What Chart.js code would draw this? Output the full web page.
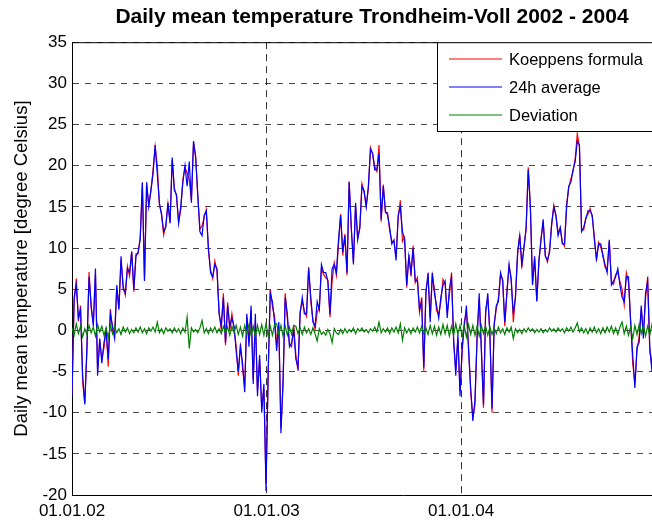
<!DOCTYPE html>
<html>
<head>
<meta charset="utf-8">
<script src="https://cdn.jsdelivr.net/npm/chart.js@4.4.1/dist/chart.umd.min.js"></script>
<style>
  html, body { margin: 0; padding: 0; background: #fff; overflow: hidden; }
  #wrap { position: relative; width: 744px; height: 524px; }
</style>
</head>
<body>
<div id="wrap"><canvas id="tempChart"></canvas></div>
<script>
// One reading every 4 days, starting 01.01.2002
const STEP_DAYS = 4;

// x axis ticks (days since 01.01.02)
const tickDays = [0, 365, 730];
const tickLabels = ['01.01.02', '01.01.03', '01.01.04'];

const seriesNames = ['Koeppens formula', '24h average', 'Deviation'];

// Koeppens formula (degC)
const koeppens = [
  -7.7, 3.4, 6.3, 1.1, 3.0, -6.3, -8.8, -2.5, 7.1, 2.7,
  0.9, 6.8, -4.8, -1.2, -3.5, -2.1, 0.3, -4.4, 2.6, 0.1,
  -0.5, 5.2, 2.7, 8.5, 5.4, 4.3, 7.8, 6.6, 9.6, 4.7,
  9.3, 9.3, 11.4, 17.7, 6.2, 17.6, 15.3, 16.9, 19.4, 22.3,
  20.0, 15.2, 14.2, 11.6, 12.8, 15.4, 13.2, 20.7, 17.3, 16.3,
  13.2, 14.6, 18.3, 19.8, 19.1, 18.3, 15.8, 22.8, 21.1, 16.2,
  12.3, 12.7, 13.7, 14.7, 9.6, 7.3, 6.3, 8.4, 7.2, 2.2,
  0.1, 4.5, -1.8, 3.4, -0.1, 2.0, 0.2, -1.9, -5.5, -1.6,
  -4.7, -6.9, 1.6, -1.3, 2.4, -6.0, 1.2, -7.4, -3.5, -9.3,
  -7.1, -18.7, -5.7, 5.0, 2.9, 1.7, -1.7, 0.5, -11.9, -6.7,
  4.5, 1.4, -1.6, -2.0, 0.6, -3.0, -4.9, 2.3, 3.5, 2.4,
  1.7, 7.7, 3.5, 1.3, 0.1, 2.2, 2.7, 7.5, 6.8, 6.4,
  6.1, 1.6, 6.0, 8.2, 6.7, 10.5, 14.1, 9.1, 11.7, 6.7,
  18.1, 12.3, 8.3, 15.1, 11.2, 12.4, 17.8, 16.8, 15.1, 17.2,
  22.2, 21.4, 19.9, 19.3, 22.5, 13.2, 17.7, 14.3, 14.3, 12.1,
  10.8, 10.8, 8.9, 13.7, 15.8, 10.8, 11.3, 5.2, 9.2, 6.6,
  10.3, 5.8, 6.4, 2.2, 4.0, -4.9, 4.8, 6.5, 1.6, 6.6,
  5.0, 2.4, 1.9, 3.5, 6.2, 5.6, 2.1, 4.3, 7.0, -1.6,
  -4.7, -1.0, -7.4, -2.7, 1.0, 2.2, -1.8, -7.5, -10.4, -9.1,
  -0.5, 3.8, -1.9, -9.4, 2.5, 3.9, -0.1, -10.0, 0.8, 2.6,
  3.9, 6.7, 6.2, 0.5, 4.8, 7.8, 6.4, 1.0, 4.2, 9.2,
  11.6, 7.6, 10.2, 12.3, 19.8, 14.9, 5.7, 8.7, 3.6, 8.3,
  11.2, 13.2, 9.1, 8.3, 9.8, 12.9, 15.2, 13.8, 11.8, 12.4,
  10.7, 10.2, 15.3, 17.4, 18.4, 19.3, 20.8, 23.9, 22.3, 12.3,
  12.2, 13.7, 14.1, 14.8, 13.8, 11.4, 8.4, 10.7, 10.1, 9.3,
  7.7, 7.4, 10.8, 6.0, 5.6, 6.8, 7.0, 5.9, 5.0, 3.1,
  7.0, 5.9, 1.4, -4.0, -6.4, -2.5, -0.8, 2.6, -0.4, 3.8,
  6.5, -2.6, -4.3, 1.6
];

// 24h average (degC)
const avg24h = [
  -8, 4, 5.5, 1.5, 2.5, -5.5, -9, -2, 6.5, 3,
  0.5, 7.5, -5.5, -1, -4, -1.5, 0, -3.5, 2, 0.5,
  -1, 5.5, 2.5, 9, 5, 4.5, 7.5, 7, 9.5, 5,
  9, 9.5, 11, 18, 6, 18, 15, 17, 19, 22.5,
  19, 15.5, 14, 12, 12.5, 15.5, 13, 21, 17, 16.5,
  13, 15, 18, 20, 17.5, 20.5, 15.5, 23, 21, 16.5,
  12, 11.5, 14, 14.5, 10, 7, 6.5, 8, 7.5, 2,
  0.5, 4, -1.5, 3, 0.5, 1.5, 0.5, -2.5, -5, -2,
  -4, -7.5, 2, -2, 3, -6.5, 2, -8, -3, -10,
  -6.5, -19.5, -5, 4.5, 3.5, 1, -2.5, 1, -12.5, -6,
  4, 2, -2, -1.5, 0, -3.5, -4.5, 2, 4, 2,
  2, 7.5, 4, 1, 0.5, 3.5, 2.5, 8, 7, 7,
  6, 2, 7.5, 8, 7, 11, 14, 9.5, 11.5, 7,
  18, 12.5, 8, 15.5, 11, 12.5, 17.5, 17, 15, 17.5,
  22, 21.5, 19.5, 19.5, 21.5, 13.5, 17.5, 14.5, 14, 12.5,
  10.5, 11, 8.5, 14, 15, 12, 11, 5.5, 9, 7,
  10, 6, 6, 2.5, 3.5, -4.5, 4.5, 7, 1, 7,
  4.5, 3, 1.5, 4, 5.5, 6, 1.5, 5, 6.5, -1,
  -5.5, -0.5, -8, -2, 0.5, 3, -2.5, -7, -11, -8.5,
  -1, 4.5, -2.5, -9, 2, 4.5, -0.5, -9.5, 0.5, 3,
  3.5, 7, 6, 1, 4.5, 8, 6, 2, 4, 9.5,
  11.5, 8, 10, 12.5, 19.5, 15, 5.5, 9, 3.5, 8.5,
  11, 13.5, 9, 8.5, 9.5, 13, 15, 14, 11.5, 12.5,
  10.5, 10.5, 15, 17.5, 18, 19.5, 20.5, 23, 22.5, 12,
  12.5, 13.5, 14.5, 14.5, 14, 11, 8.7, 10.5, 10.5, 9,
  8, 7, 11, 5.5, 6, 6.5, 7.5, 5.5, 4, 3.5,
  6.5, 6.5, 1, -3, -7, -2, -1.5, 3, -1, 4.5,
  6, -2, -5, 2
];

// Deviation Koeppens - 24h average (degC)
const deviation = [
  0.3, -0.6, 0.8, -0.4, 0.5, -0.8, 0.2, -0.5, 0.6, -0.3,
  0.4, -0.7, 0.7, -0.2, 0.5, -0.6, 0.3, -0.9, 0.6, -0.4,
  0.5, -0.3, 0.2, -0.5, 0.4, -0.2, 0.3, -0.4, 0.1, -0.3,
  0.3, -0.2, 0.4, -0.3, 0.2, -0.4, 0.3, -0.1, 0.4, -0.2,
  1.0, -0.3, 0.2, -0.4, 0.3, -0.1, 0.2, -0.3, 0.3, -0.2,
  0.2, -0.4, 0.3, -0.2, 1.6, -2.2, 0.3, -0.2, 0.1, -0.3,
  0.3, 1.2, -0.3, 0.2, -0.4, 0.3, -0.2, 0.4, -0.3, 0.2,
  -0.4, 0.5, -0.3, 0.4, -0.6, 0.5, -0.3, 0.6, -0.5, 0.4,
  -0.7, 0.6, -0.4, 0.7, -0.6, 0.5, -0.8, 0.6, -0.5, 0.7,
  -0.6, 0.8, -0.7, 0.5, -0.6, 0.7, 0.8, -0.5, 0.6, -0.7,
  0.5, -0.6, 0.4, -0.5, 0.6, 0.5, -0.4, 0.3, -0.5, 0.4,
  -0.3, 0.2, -0.5, 0.3, -0.4, -1.3, 0.2, -0.5, -0.2, -0.6,
  0.1, -0.4, -1.5, 0.2, -0.3, -0.5, 0.1, -0.4, 0.2, -0.3,
  0.1, -0.2, 0.3, -0.4, 0.2, -0.1, 0.3, -0.2, 0.1, -0.3,
  0.2, -0.1, 0.4, -0.2, 1.0, -0.3, 0.2, -0.2, 0.3, -0.4,
  0.3, -0.2, 0.4, -0.3, 0.8, -1.2, 0.3, -0.3, 0.2, -0.4,
  0.3, -0.2, 0.4, -0.3, 0.5, -0.4, 0.3, -0.5, 0.6, -0.4,
  0.5, -0.6, 0.4, -0.5, 0.7, -0.4, 0.6, -0.7, 0.5, -0.6,
  0.8, -0.5, 0.6, -0.7, 0.5, -0.8, 0.7, -0.5, 0.6, -0.6,
  0.5, -0.7, 0.6, -0.4, 0.5, -0.6, 0.4, -0.5, 0.3, -0.4,
  0.4, -0.3, 0.2, -0.5, 0.3, -0.2, 0.4, -1.0, 0.2, -0.3,
  0.1, -0.4, 0.2, -0.2, 0.3, -0.1, 0.2, -0.3, 0.1, -0.2,
  0.2, -0.3, 0.1, -0.2, 0.3, -0.1, 0.2, -0.2, 0.3, -0.1,
  0.2, -0.3, 0.3, -0.1, 0.4, -0.2, 0.3, 0.9, -0.2, 0.3,
  -0.3, 0.2, -0.4, 0.3, -0.2, 0.4, -0.3, 0.2, -0.4, 0.3,
  -0.3, 0.4, -0.2, 0.5, -0.4, 0.3, -0.5, 0.4, 1.0, -0.4,
  0.5, -0.6, 0.4, -1.0, 0.6, -0.5, 0.7, -0.4, 0.6, -0.7,
  0.5, -0.6, 0.7, -0.4
];

const FONT = "'Liberation Sans', Arial, Helvetica, sans-serif";
Chart.defaults.font.family = FONT;
Chart.defaults.color = '#000';

// pair every value with its day number
function toPoints(values) {
    return values.map((v, i) => ({ x: i * STEP_DAYS, y: v }));
}

// legend box inside the plot (top right) + top frame line, matlab style
const matlabFrame = {
    id: 'matlabFrame',
    afterDatasetsDraw(chart) {
        const { ctx, chartArea } = chart;
        ctx.save();
        // top border of the axes box
        ctx.strokeStyle = '#000';
        ctx.lineWidth = 1;
        ctx.beginPath();
        ctx.moveTo(chartArea.left, chartArea.top + 0.5);
        ctx.lineTo(chartArea.right, chartArea.top + 0.5);
        ctx.stroke();

        // legend
        const boxLeft = 437.5, boxTop = chartArea.top, boxBottom = 131.5;
        ctx.fillStyle = '#fff';
        ctx.fillRect(boxLeft, boxTop, chartArea.right - boxLeft, boxBottom - boxTop);
        ctx.strokeRect(boxLeft, boxTop + 0.5, chartArea.right - boxLeft + 5, boxBottom - boxTop - 0.5);

        ctx.font = '16.5px ' + FONT;
        ctx.textBaseline = 'middle';
        ctx.textAlign = 'left';
        chart.data.datasets.forEach((ds, i) => {
            const y = 59 + i * 28;
            ctx.strokeStyle = ds.borderColor;
            ctx.beginPath();
            ctx.moveTo(449, y);
            ctx.lineTo(502, y);
            ctx.stroke();
            ctx.fillStyle = '#000';
            ctx.fillText(ds.label, 509, y + 1);
        });
        ctx.restore();
    }
};

const ctx = document.getElementById('tempChart').getContext('2d');
const chart = new Chart(ctx, {
    type: 'line',
    data: {
        datasets: [
            {
                label: seriesNames[0],
                data: toPoints(koeppens),
                borderColor: '#ff0000',
                borderWidth: 1.2,
                order: 3
            },
            {
                label: seriesNames[1],
                data: toPoints(avg24h),
                borderColor: '#0000ff',
                borderWidth: 1.2,
                order: 2
            },
            {
                label: seriesNames[2],
                data: toPoints(deviation),
                borderColor: '#008000',
                borderWidth: 1.2,
                order: 1
            }
        ]
    },
    options: {
        responsive: true,
        maintainAspectRatio: false,
        animation: false,
        events: [],
        elements: {
            point: { radius: 0 },
            line: { tension: 0 }
        },
        layout: {
            padding: { left: 10, right: 10, top: 0, bottom: 0 }
        },
        plugins: {
            legend: { display: false },
            tooltip: { enabled: false },
            title: {
                display: true,
                text: 'Daily mean temperature Trondheim-Voll 2002 - 2004',
                font: { size: 21, weight: 'bold' },
                color: '#000',
                padding: { top: 5, bottom: 12 }
            }
        },
        scales: {
            x: {
                type: 'linear',
                min: 0,
                max: 1242,
                afterBuildTicks: (scale) => {
                    scale.ticks = tickDays.map(d => ({ value: d }));
                },
                afterFit: (scale) => { scale.height = 29; },
                ticks: {
                    autoSkip: false,
                    maxRotation: 0,
                    padding: 6,
                    font: { size: 17 },
                    callback: (value) => tickLabels[tickDays.indexOf(value)]
                },
                grid: {
                    color: 'rgba(0,0,0,0.8)',
                    lineWidth: 1,
                    drawTicks: false
                },
                border: { display: true, color: '#000', width: 1, dash: [7, 5] }
            },
            y: {
                min: -20,
                max: 35,
                afterFit: (scale) => { scale.width = 62; },
                ticks: {
                    stepSize: 5,
                    padding: 5,
                    font: { size: 17 }
                },
                grid: {
                    color: 'rgba(0,0,0,0.7)',
                    lineWidth: 1,
                    drawTicks: false
                },
                border: { display: true, color: '#000', width: 1, dash: [6, 6] },
                title: {
                    display: true,
                    text: 'Daily mean temperature [degree Celsius]',
                    font: { size: 18.5 },
                    color: '#000',
                    padding: { top: 1, bottom: 0 }
                }
            }
        }
    },
    plugins: [matlabFrame]
});
</script>
</body>
</html>
